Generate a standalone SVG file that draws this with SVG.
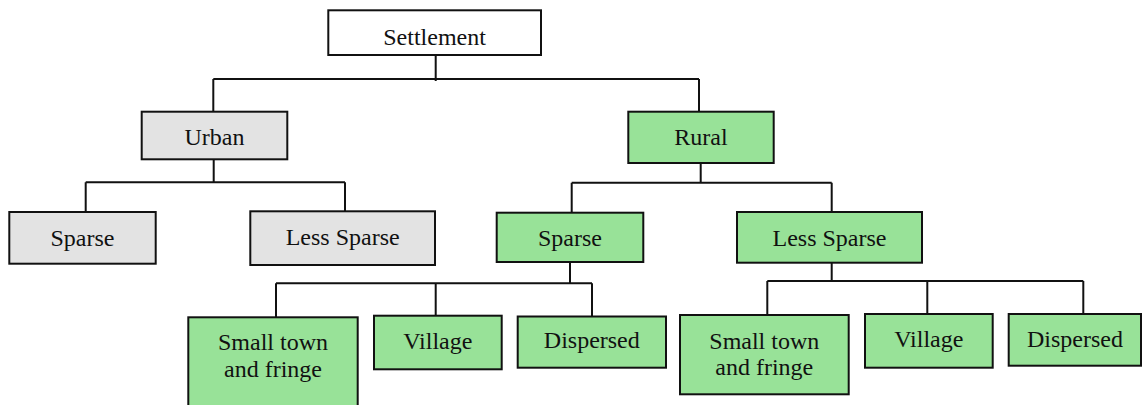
<svg xmlns="http://www.w3.org/2000/svg" width="1142" height="405" viewBox="0 0 1142 405">
<style>
.box{stroke:#111;stroke-width:2}
.w{fill:#ffffff}
.g{fill:#e3e3e3}
.gr{fill:#98e298}
text{font-family:'Liberation Serif','Times New Roman','DejaVu Serif',serif;font-size:24px;fill:#111;text-anchor:middle}
.c{fill:none;stroke:#111;stroke-width:2}
</style>
<rect width="1142" height="405" fill="#ffffff"/>
<g id="connectors">
<path class="c" d="M435.7 55V81M213.3 79H699M213.3 79V111.7M699 79V111.7"/>
<path class="c" d="M213.7 159.3V182.3M85.7 182.3H345M85.7 182.3V212M345 182.3V211"/>
<path class="c" d="M700.7 163V182.7M571.7 182.7H831.7M571.7 182.7V212.7M831.7 182.7V211.7"/>
<path class="c" d="M570 262V283.3M276 283.3H592M276 283.3V317.3M435.7 283.3V315.7M592 283.3V316"/>
<path class="c" d="M831.7 262.7V281M767.3 281H1083.3M767.3 281V315M927.3 281V314M1083.3 281V314"/>
</g>
<g id="nodes">
<g id="settlement"><rect class="box w" x="328.3" y="10.3" width="212.7" height="44.7"/><text x="434.6" y="45">Settlement</text></g>
<g id="urban"><rect class="box g" x="141.7" y="111.7" width="145.6" height="47.6"/><text x="214.5" y="145">Urban</text></g>
<g id="rural"><rect class="box gr" x="628.3" y="111.7" width="145.4" height="51.3"/><text x="701" y="144.5">Rural</text></g>
<g id="urban-sparse"><rect class="box g" x="9.3" y="212" width="146.4" height="51.7"/><text x="82.5" y="245.5">Sparse</text></g>
<g id="urban-less-sparse"><rect class="box g" x="250.3" y="211.3" width="184.7" height="53.7"/><text x="342.7" y="244.5">Less Sparse</text></g>
<g id="rural-sparse"><rect class="box gr" x="496.7" y="212.7" width="146.6" height="49.3"/><text x="570" y="245.5">Sparse</text></g>
<g id="rural-less-sparse"><rect class="box gr" x="737" y="212" width="185" height="50.7"/><text x="829.5" y="245.5">Less Sparse</text></g>
<g id="sparse-small-town"><rect class="box gr" x="188.3" y="317.3" width="169.4" height="92"/><text x="273" y="350">Small town</text><text x="273" y="376.5">and fringe</text></g>
<g id="sparse-village"><rect class="box gr" x="374" y="315.7" width="127.7" height="53.6"/><text x="437.8" y="348.5">Village</text></g>
<g id="sparse-dispersed"><rect class="box gr" x="517.7" y="316.5" width="148.3" height="51.2"/><text x="591.8" y="348">Dispersed</text></g>
<g id="less-small-town"><rect class="box gr" x="680" y="315" width="168.7" height="79.3"/><text x="764.3" y="348.5">Small town</text><text x="764.3" y="374.5">and fringe</text></g>
<g id="less-village"><rect class="box gr" x="865" y="314" width="127.7" height="53.7"/><text x="928.8" y="346.5">Village</text></g>
<g id="less-dispersed"><rect class="box gr" x="1008.7" y="314" width="132.3" height="51.7"/><text x="1074.9" y="346.5">Dispersed</text></g>
</g>
</svg>
